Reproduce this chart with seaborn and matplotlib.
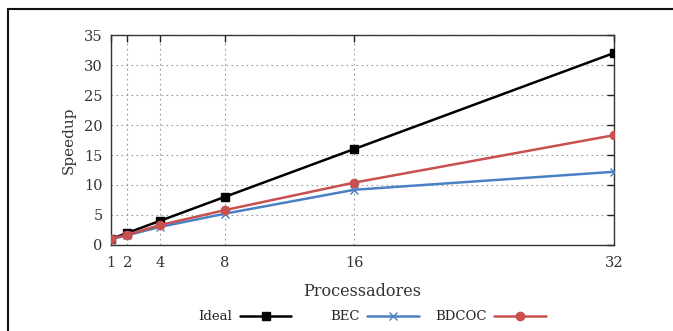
import matplotlib
matplotlib.use("Agg")
import matplotlib.pyplot as plt
import seaborn as sns
import pandas as pd
from matplotlib.lines import Line2D

processors = [1, 2, 4, 8, 16, 32]
ideal = [1, 2, 4, 8, 16, 32]
bec = [1, 1.6, 3.0, 5.2, 9.2, 12.2]
bdcoc = [1, 1.7, 3.3, 5.8, 10.4, 18.3]
series_names = ["Ideal", "BEC", "BDCOC"]
yticks = [0, 5, 10, 15, 20, 25, 30, 35]

sns.set_theme(style="white")
plt.rcParams['font.family'] = ['DejaVu Serif']

palette = {"Ideal": "#000000", "BEC": "#4a80c4", "BDCOC": "#c8504e"}
markers = {"Ideal": "s", "BEC": "x", "BDCOC": "o"}

fig = plt.figure(figsize=(6.73, 3.31), dpi=100)
ax = fig.add_axes([0.165, 0.26, 0.747, 0.634])

for name, vals in zip(series_names, [ideal, bec, bdcoc]):
    d = pd.DataFrame({"Processadores": processors, "Speedup": vals})
    sns.lineplot(data=d, x="Processadores", y="Speedup", color=palette[name],
                 marker=markers[name], linewidth=1.8, markersize=6,
                 markeredgewidth=1.0, markeredgecolor=palette[name], ax=ax,
                 zorder={"Ideal": 3, "BEC": 4, "BDCOC": 5}[name])

ax.set_xlim(1, 32)
ax.set_ylim(0, 35)
ax.set_xticks(processors)
ax.set_yticks(yticks)
ax.grid(True, linestyle=(0, (1.5, 3)), color="#999999", linewidth=0.8)
ax.tick_params(direction="in", length=5, width=1, color="#222222",
               top=True, right=True, labelsize=10.5, labelcolor="#333333", pad=6)
ax.tick_params(axis="x", pad=8)
for s in ax.spines.values():
    s.set_color("#333333")
    s.set_linewidth(1.0)
ax.set_xlabel("Processadores", fontsize=11.5, color="#333333", labelpad=9)
ax.set_ylabel("Speedup", fontsize=11, color="#333333", labelpad=6)

# legend entries: label text followed by sample (gnuplot style)
legend_x = [198 / 673, 330 / 673, 435 / 673]
for n, lx in zip(series_names, legend_x):
    h = Line2D([], [], color=palette[n], marker=markers[n], linewidth=1.8,
               markersize=6, markeredgewidth=1.0)
    fig.legend([h], [n], loc="center left", bbox_to_anchor=(lx, 1 - 317 / 331),
               frameon=False, markerfirst=False, fontsize=9.5,
               handlelength=3.9, handletextpad=0.6, borderpad=0,
               borderaxespad=0)

# outer border
fig.add_artist(Line2D([7.5 / 673, 1.0], [1 - 8.5 / 331, 1 - 8.5 / 331],
                      transform=fig.transFigure, color="#111111", linewidth=1.5))
fig.add_artist(Line2D([7.5 / 673, 7.5 / 673], [0.0, 1 - 8.5 / 331],
                      transform=fig.transFigure, color="#111111", linewidth=1.5))

fig.savefig("out.png", dpi=100)
